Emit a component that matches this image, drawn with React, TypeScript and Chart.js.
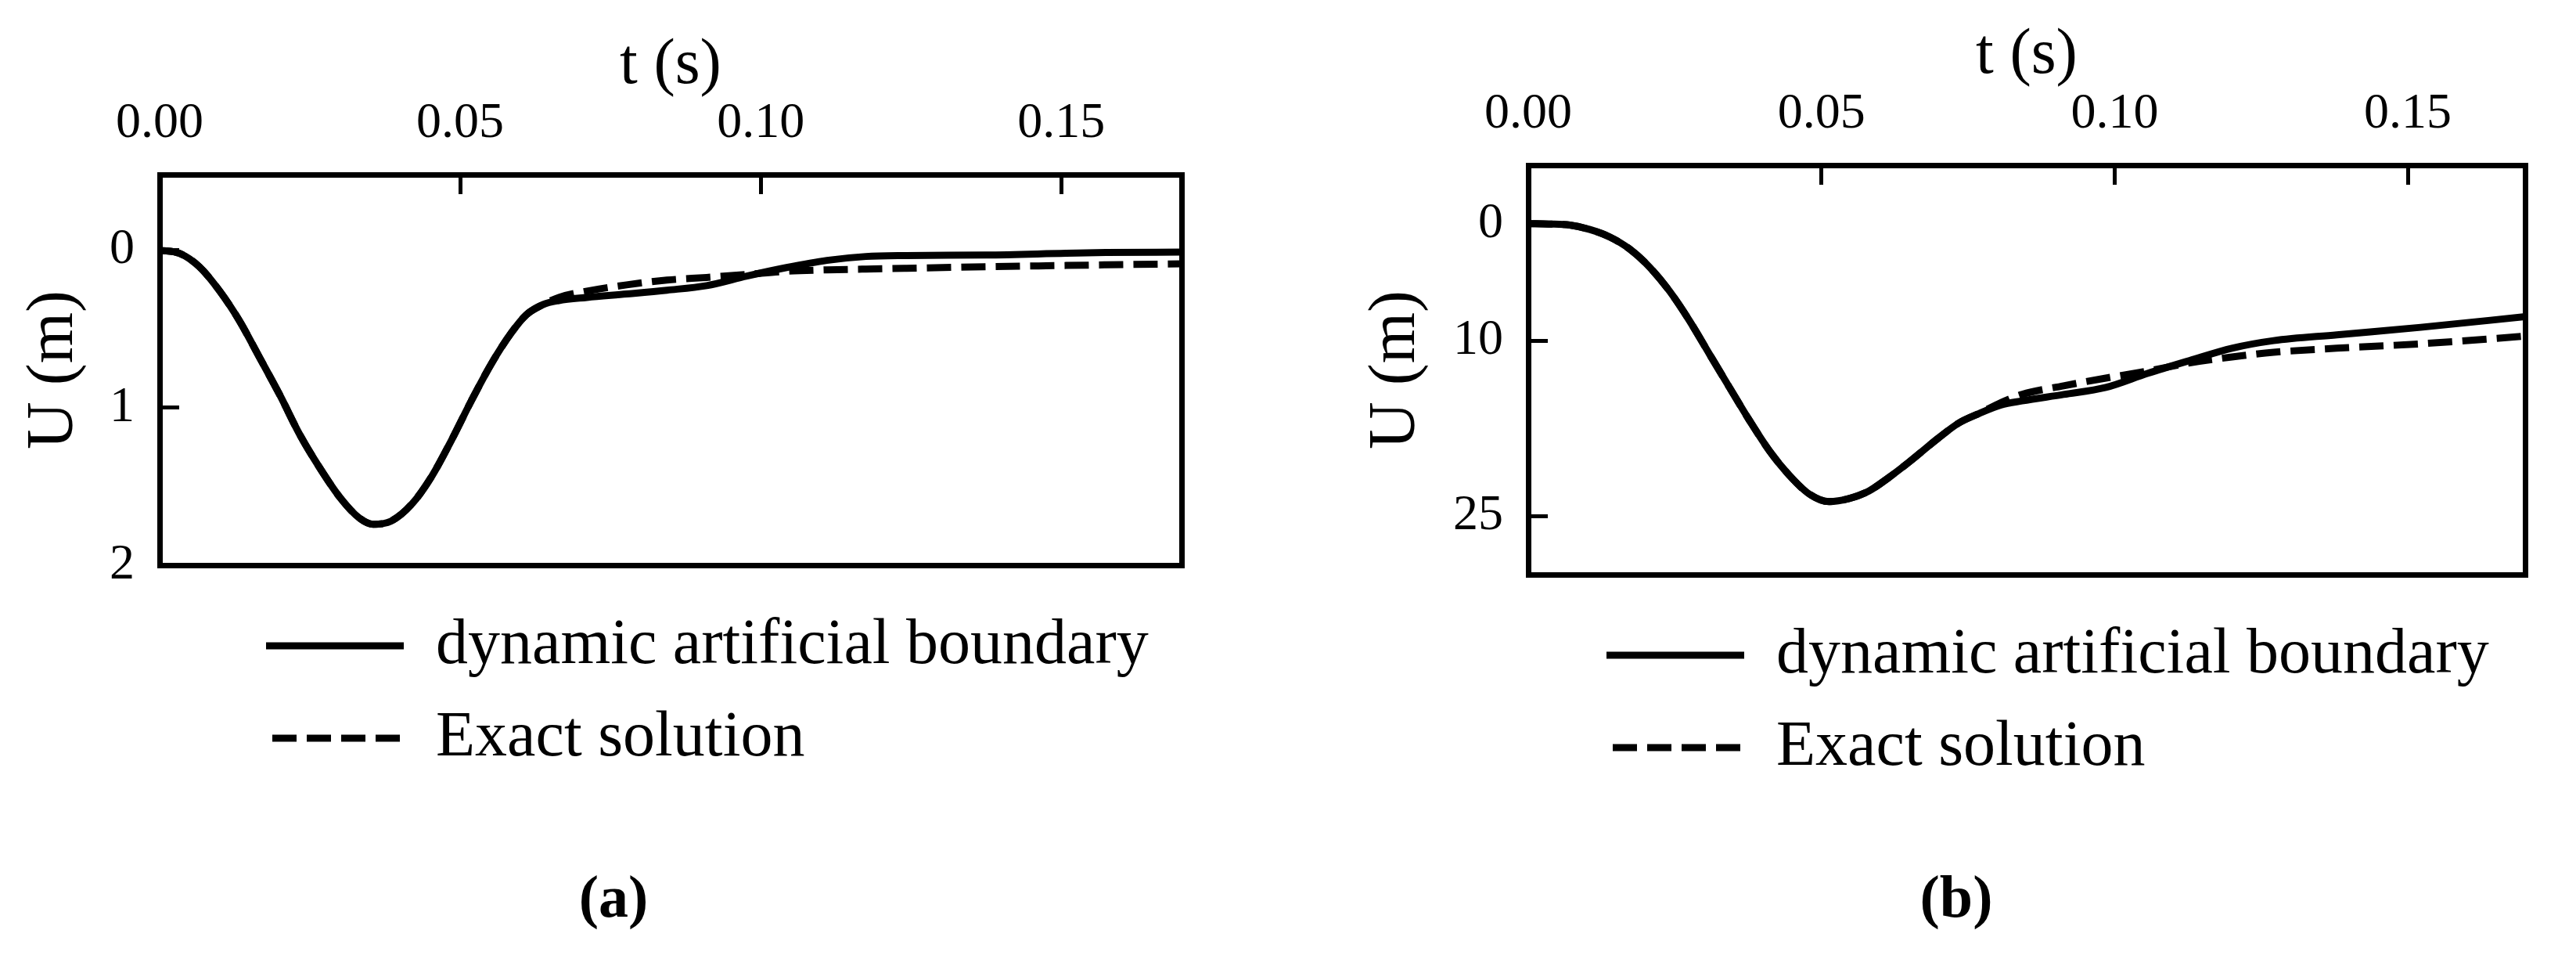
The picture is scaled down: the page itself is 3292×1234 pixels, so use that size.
import React, { useEffect, useRef } from 'react';
import { Chart, registerables } from 'chart.js';

Chart.register(...registerables);

// ---------- data ----------
const seriesLabels = ['dynamic artificial boundary', 'Exact solution'];
const panelLabels = ['(a)', '(b)'];
const xTitle = 't (s)';
const yTitle = 'U (m)';
const xTickValues = [0, 0.05, 0.1, 0.15];
const yTickValuesA = [0, 1, 2];
const yTickValuesB = [0, 10, 25];

const timeA = [0, 0.0033, 0.0066, 0.010, 0.0133, 0.0166, 0.020, 0.0233, 0.0266, 0.030, 0.0332, 0.0355, 0.0385, 0.042, 0.0452, 0.0485, 0.0518, 0.0552, 0.0585, 0.061, 0.0638, 0.0664, 0.0711, 0.0777, 0.0844, 0.091, 0.0977, 0.1043, 0.111, 0.1175, 0.1242, 0.1375, 0.1508, 0.1574, 0.17];
const dynamicA = [0, 0.02, 0.105, 0.26, 0.45, 0.68, 0.92, 1.17, 1.38, 1.57, 1.70, 1.74, 1.72, 1.61, 1.44, 1.21, 0.96, 0.72, 0.525, 0.41, 0.345, 0.32, 0.30, 0.278, 0.254, 0.225, 0.164, 0.11, 0.065, 0.04, 0.034, 0.031, 0.02, 0.015, 0.012];
const exactA = [0, 0.02, 0.105, 0.26, 0.45, 0.68, 0.92, 1.17, 1.38, 1.57, 1.70, 1.74, 1.72, 1.61, 1.44, 1.21, 0.96, 0.72, 0.525, 0.41, 0.345, 0.30, 0.26, 0.22, 0.19, 0.173, 0.154, 0.134, 0.125, 0.12, 0.115, 0.105, 0.097, 0.093, 0.087];

const timeB = [0, 0.0035, 0.0071, 0.0105, 0.0139, 0.0173, 0.0207, 0.0241, 0.0275, 0.0309, 0.0343, 0.0377, 0.0411, 0.0445, 0.0479, 0.0513, 0.0547, 0.0581, 0.0615, 0.0649, 0.0699, 0.0734, 0.077, 0.0806, 0.0842, 0.0913, 0.0985, 0.1056, 0.1128, 0.12, 0.1271, 0.1379, 0.1522, 0.17];
const dynamicB = [0, 0.03, 0.12, 0.5, 1.14, 2.17, 3.72, 5.77, 8.3, 11.15, 13.99, 16.8, 19.4, 21.5, 23.1, 23.76, 23.5, 22.85, 21.7, 20.4, 18.35, 17.05, 16.2, 15.5, 15.15, 14.6, 14.0, 12.8, 11.7, 10.65, 10.0, 9.5, 8.86, 7.95];
const exactB = [0, 0.03, 0.12, 0.5, 1.14, 2.17, 3.72, 5.77, 8.3, 11.15, 13.99, 16.8, 19.4, 21.5, 23.1, 23.76, 23.5, 22.85, 21.7, 20.4, 18.35, 17.05, 16.2, 15.3, 14.6, 13.86, 13.2, 12.6, 11.9, 11.4, 11.0, 10.65, 10.27, 9.62];

// ---------- styling ----------
const FONT = "'Liberation Serif', 'Times New Roman', serif";
const BLACK = '#000000';
const LINE_W = 9;
const DASH = [31, 13];

type PanelProps = {
  left: number;
  width: number;
  time: number[];
  dyn: number[];
  exact: number[];
  yMin: number;
  yMax: number;
  yTicks: number[];
  caption: string;
  padL: number;
  padR: number;
  padB: number;
  xAxisH: number;
  yAxisW: number;
  x2H: number;
  legendDx: number;
  xTitlePadTop: number;
  captionPadTop: number;
};

function Panel(p: PanelProps) {
  const ref = useRef<HTMLCanvasElement>(null);
  useEffect(() => {
    if (!ref.current) return;
    const toPts = (ys: number[]) => p.time.map((t, i) => ({ x: t, y: ys[i] }));
    const shiftLegend = {
      id: 'shiftLegend',
      afterLayout(chart: any) {
        const lg = chart.legend;
        if (lg) {
          lg.left += p.legendDx;
          lg.right += p.legendDx;
        }
      },
    };
    const chart = new Chart(ref.current, {
      type: 'line',
      data: {
        datasets: [
          {
            label: seriesLabels[0],
            data: toPts(p.dyn),
            borderColor: BLACK,
            backgroundColor: BLACK,
            borderWidth: LINE_W,
            pointRadius: 0,
            cubicInterpolationMode: 'monotone',
            fill: false,
          },
          {
            label: seriesLabels[1],
            data: toPts(p.exact),
            borderColor: BLACK,
            backgroundColor: BLACK,
            borderWidth: LINE_W,
            borderDash: DASH,
            pointRadius: 0,
            cubicInterpolationMode: 'monotone',
            fill: false,
          },
        ],
      },
      options: {
        responsive: false,
        animation: false,
        devicePixelRatio: 1,
        layout: { padding: { left: p.padL, right: p.padR, top: 0, bottom: p.padB } },
        scales: {
          x: {
            type: 'linear',
            position: 'top',
            min: 0,
            max: 0.17,
            afterBuildTicks: (s: any) => {
              s.ticks = xTickValues.map((v) => ({ value: v }));
            },
            afterFit: (s: any) => {
              s.height = p.xAxisH;
            },
            ticks: {
              font: { family: FONT, size: 64, lineHeight: 1 },
              color: BLACK,
              padding: 58,
              maxRotation: 0,
              autoSkip: false,
              callback: (v: any) => Number(v).toFixed(2),
            },
            grid: {
              drawOnChartArea: false,
              drawTicks: true,
              tickLength: -25,
              tickWidth: 5,
              tickColor: BLACK,
              lineWidth: 7,
              color: BLACK,
            },
            border: { display: true, color: BLACK, width: 7 },
            title: {
              display: true,
              text: xTitle,
              color: BLACK,
              font: { family: FONT, size: 82, lineHeight: 1 },
              padding: { top: p.xTitlePadTop, bottom: 0 },
            },
          },
          y: {
            type: 'linear',
            position: 'left',
            reverse: true,
            min: p.yMin,
            max: p.yMax,
            afterBuildTicks: (s: any) => {
              s.ticks = p.yTicks.map((v) => ({ value: v }));
            },
            afterFit: (s: any) => {
              s.width = p.yAxisW;
            },
            ticks: {
              font: { family: FONT, size: 64, lineHeight: 1 },
              color: BLACK,
              padding: 57,
              autoSkip: false,
              callback: (v: any) => String(v),
            },
            grid: {
              drawOnChartArea: false,
              drawTicks: true,
              tickLength: -25,
              tickWidth: 5,
              tickColor: BLACK,
              lineWidth: 7,
              color: BLACK,
            },
            border: { display: true, color: BLACK, width: 7 },
            title: {
              display: true,
              text: yTitle,
              color: BLACK,
              font: { family: FONT, size: 84, lineHeight: 1 },
              padding: { top: -30, bottom: 0 },
            },
          },
          x2: {
            type: 'linear',
            axis: 'x',
            position: 'bottom',
            min: 0,
            max: 0.17,
            afterFit: (s: any) => {
              s.height = p.x2H;
            },
            ticks: { display: false },
            grid: { display: false, drawTicks: false, lineWidth: 7 },
            border: { display: true, color: BLACK, width: 7 },
          },
          y2: {
            type: 'linear',
            axis: 'y',
            position: 'right',
            reverse: true,
            min: p.yMin,
            max: p.yMax,
            afterFit: (s: any) => {
              s.width = 0;
            },
            ticks: { display: false },
            grid: { display: false, drawTicks: false, lineWidth: 7 },
            border: { display: true, color: BLACK, width: 7 },
          },
        },
        plugins: {
          tooltip: { enabled: false },
          legend: {
            display: true,
            position: 'bottom',
            align: 'start',
            labels: {
              font: { family: FONT, size: 82, lineHeight: 1 },
              color: BLACK,
              padding: 36,
              usePointStyle: true,
              pointStyle: 'line',
              pointStyleWidth: 176,
              boxHeight: 82,
              generateLabels: (c: any) => {
                const items = (Chart as any).defaults.plugins.legend.labels.generateLabels(c);
                return items.map((it: any) => {
                  const ds = c.data.datasets[it.datasetIndex];
                  return {
                    ...it,
                    pointStyle: 'line',
                    strokeStyle: BLACK,
                    fillStyle: BLACK,
                    lineWidth: ds.borderWidth,
                    lineDash: ds.borderDash || [],
                    lineDashOffset: ds.borderDash ? 36 : 0,
                  };
                });
              },
            },
          },
          title: {
            display: true,
            position: 'bottom',
            text: p.caption,
            color: BLACK,
            font: { family: FONT, size: 76, weight: 'bold', lineHeight: 1 },
            padding: { top: p.captionPadTop, bottom: 0 },
          },
        },
      } as any,
      plugins: [shiftLegend],
    });
    return () => chart.destroy();
  }, []);
  return (
    <div style={{ position: 'absolute', left: p.left, top: 0, width: p.width, height: 1234 }}>
      <canvas ref={ref} width={p.width} height={1234} style={{ width: p.width, height: 1234, display: 'block' }} />
    </div>
  );
}

export default function App() {
  return (
    <div
      style={{
        position: 'absolute',
        left: 0,
        top: 0,
        width: 3292,
        height: 1234,
        background: '#ffffff',
        overflow: 'hidden',
      }}
    >
      <Panel
        left={0}
        width={1600}
        time={timeA}
        dyn={dynamicA}
        exact={exactA}
        yMin={-0.48}
        yMax={2}
        yTicks={yTickValuesA}
        caption={panelLabels[0]}
        padL={58}
        padR={90}
        padB={45}
        xAxisH={223}
        yAxisW={146}
        x2H={26}
        legendDx={246}
        xTitlePadTop={43}
        captionPadTop={119}
      />
      <Panel
        left={1640}
        width={1652}
        time={timeB}
        dyn={dynamicB}
        exact={exactB}
        yMin={-5}
        yMax={30}
        yTicks={yTickValuesB}
        caption={panelLabels[1]}
        padL={133}
        padR={65}
        padB={45}
        xAxisH={211}
        yAxisW={180}
        x2H={26}
        legendDx={244}
        xTitlePadTop={30}
        captionPadTop={107}
      />
    </div>
  );
}
